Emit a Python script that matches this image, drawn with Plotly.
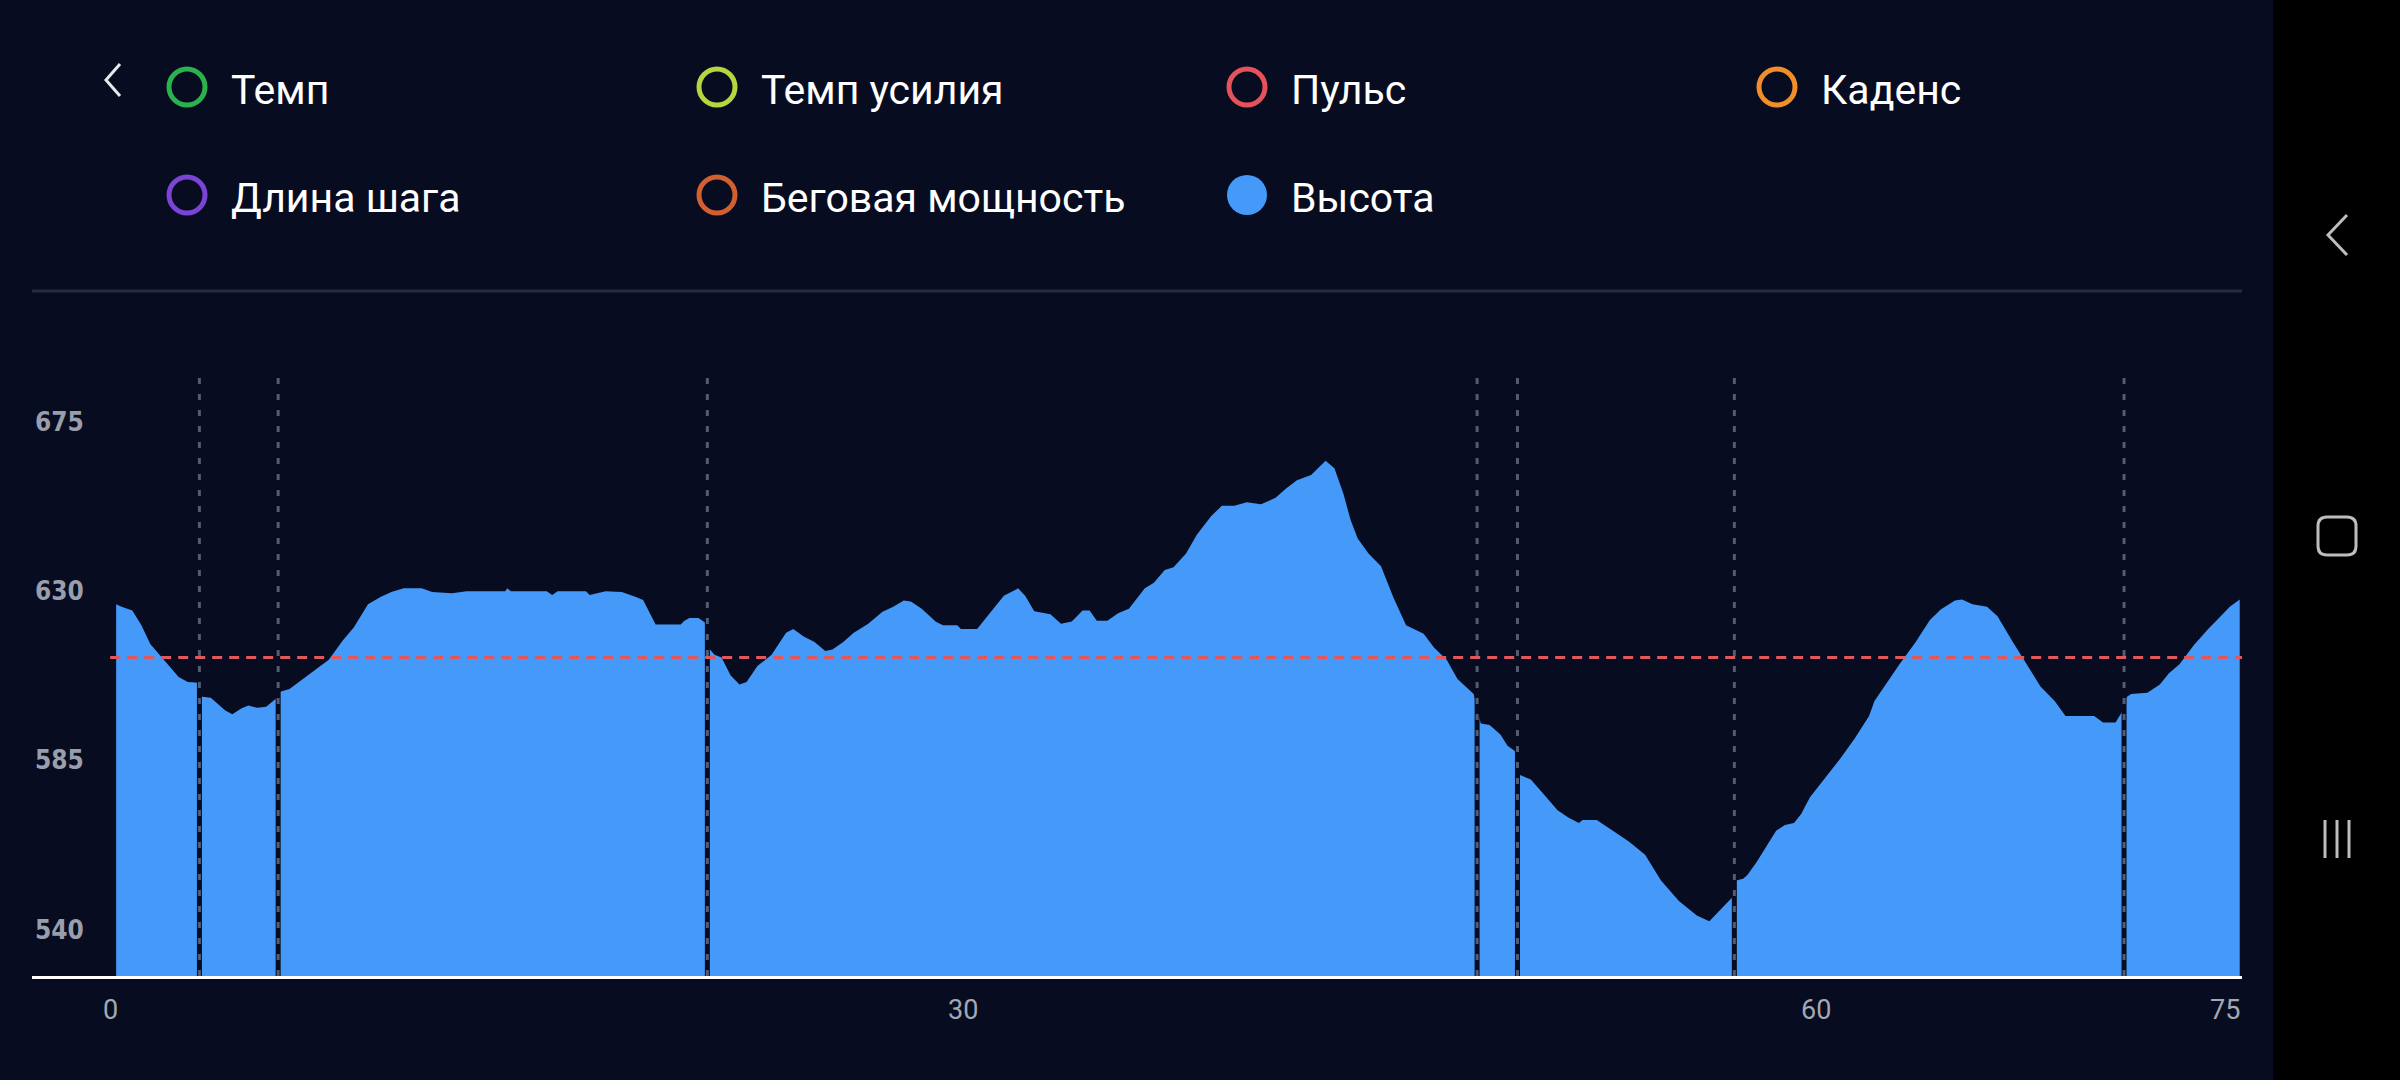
import plotly.graph_objects as go

# ---------------- data ----------------
dist_km = [
    0.21, 0.40, 0.78, 1.10, 1.41, 1.66, 2.04, 2.41, 2.73, 3.10,
    3.18, 3.54, 4.05, 4.30, 4.61, 4.86, 5.18, 5.49, 5.87,
    5.95, 6.31, 6.69, 7.19, 7.69, 8.19, 8.57, 9.07, 9.51, 9.89, 10.33, 10.96, 11.33, 12.03,
    12.53, 13.90, 13.97, 14.10, 15.36, 15.55, 15.74, 16.74, 16.87, 17.43, 18.00, 18.50,
    18.75, 19.19, 20.07, 20.19, 20.38, 20.70, 20.95,
    21.05, 21.26, 21.51, 21.83, 22.14, 22.39, 22.77, 23.27, 23.78, 24.03, 24.40, 24.78,
    25.16, 25.41, 25.79, 26.16, 26.67, 27.17, 27.55, 27.92, 28.17, 28.55, 29.05, 29.30,
    29.80, 29.93, 30.50, 30.81, 31.44, 31.94, 32.19, 32.51, 33.08, 33.45, 33.83, 34.21,
    34.46, 34.71, 35.08, 35.46, 35.84, 36.40, 36.72, 37.10, 37.41, 37.85, 38.23, 38.73,
    39.11, 39.55, 39.99, 40.49, 41.00, 41.37, 41.75, 42.25, 42.76, 43.07, 43.39, 43.64,
    43.89, 44.27, 44.71, 45.15, 45.59, 46.21, 46.58, 47.02, 47.40, 47.97,
    48.22, 48.53, 48.91, 49.16, 49.42,
    49.60, 49.98, 50.42, 50.92, 51.30, 51.67, 51.80, 52.30, 52.80, 53.43, 54.00, 54.56,
    55.19, 55.82, 56.26, 56.70, 57.08,
    57.20, 57.45, 57.60, 57.92, 58.61, 58.92, 59.24, 59.49, 59.80, 60.31, 60.87, 61.38,
    61.88, 62.07, 62.51, 62.95, 63.52, 64.02, 64.40, 64.90, 65.15, 65.52, 66.03, 66.40,
    66.90, 67.41, 67.91, 68.41, 68.79, 69.80, 70.11, 70.55, 70.77,
    70.94, 71.10, 71.67, 72.11, 72.43, 72.80, 73.31, 73.81, 74.25, 74.57, 74.92,
]
alt_m = [
    626.6, 625.9, 624.9, 621.0, 616.0, 613.8, 610.6, 607.2, 605.9, 605.7,
    602.0, 601.7, 598.3, 597.3, 598.8, 599.6, 599.0, 599.3, 601.7,
    603.2, 604.0, 606.2, 609.1, 611.8, 617.0, 620.4, 626.6, 628.5, 629.8, 630.8, 630.8, 629.8, 629.5,
    630.0, 630.0, 630.8, 630.0, 630.0, 629.0, 630.0, 630.0, 629.0, 630.0, 629.8, 628.5,
    627.7, 621.2, 621.2, 622.1, 622.9, 622.9, 621.6,
    615.0, 613.1, 612.4, 607.6, 605.2, 605.9, 610.1, 613.1, 619.0, 620.0, 618.0, 616.5,
    614.1, 614.5, 616.5, 619.0, 621.4, 624.6, 625.9, 627.6, 627.3, 625.4, 621.9, 621.0,
    621.0, 620.0, 620.0, 622.9, 628.8, 630.8, 628.8, 624.7, 623.9, 621.4, 622.0, 624.9,
    624.9, 622.2, 622.2, 624.2, 625.4, 630.8, 632.3, 635.7, 636.4, 640.1, 645.1, 650.0,
    652.8, 652.8, 653.7, 653.2, 654.9, 657.4, 659.6, 661.0, 664.8, 662.8, 655.9, 649.0,
    644.1, 640.1, 636.7, 628.3, 621.0, 618.7, 615.0, 611.8, 606.7, 602.7,
    594.8, 594.4, 591.9, 588.9, 587.5,
    581.1, 579.9, 576.1, 571.7, 569.8, 568.3, 569.1, 569.1, 566.6, 563.4, 559.9, 553.0,
    547.6, 543.7, 542.2, 545.6, 548.6,
    553.0, 553.5, 554.5, 557.9, 566.3, 567.8, 568.3, 570.7, 575.2, 580.1, 585.5, 590.9,
    596.8, 600.8, 605.7, 610.6, 616.5, 622.4, 625.2, 627.6, 627.8, 626.6, 625.9, 623.4,
    617.0, 610.6, 604.7, 600.8, 596.8, 596.8, 595.1, 595.1, 597.8,
    601.9, 602.7, 603.0, 605.2, 608.2, 610.6, 615.7, 620.0, 623.4, 625.9, 627.8,
]
pause_km = [3.14, 5.91, 21.01, 48.09, 49.51, 57.14, 70.85]
avg_alt = 612.4

y_ticks = [540, 585, 630, 675]
x_ticks = [0, 30, 60, 75]
x_tick_labels = ["0", "30", "60", "75"]

legend_names = ["Темп", "Темп усилия", "Пульс", "Каденс",
                "Длина шага", "Беговая мощность", "Высота"]
legend_colors = ["#2bb24c", "#b4d63e", "#e5525a", "#f08f2a",
                 "#7b44d4", "#d25f2f", "#4499f9"]
legend_filled = [False, False, False, False, False, False, True]

# ---------------- layout helpers (pixel -> paper) ----------------
W, H = 2400, 1080
L, R, T, B = 32, 2242, 375, 976
BG = "#070c21"
FILL = "#4499f9"


def px(x):
    return (x - L) / (R - L)


def py(y):
    return (B - y) / (B - T)


fig = go.Figure()
fig.add_trace(go.Scatter(
    x=dist_km, y=alt_m, mode="lines", fill="tozeroy",
    line=dict(width=0, color=FILL), fillcolor=FILL,
    hoverinfo="skip", showlegend=False,
))

shapes = []
# pause markers: dark gap then grey dashed line
for p in pause_km:
    shapes.append(dict(type="line", xref="x", yref="paper", x0=p, x1=p, y0=0, y1=1,
                       line=dict(color=BG, width=5), layer="above"))
    shapes.append(dict(type="line", xref="x", yref="paper", x0=p, x1=p, y0=0, y1=1,
                       line=dict(color="#525b70", width=3, dash="6px,10px"), layer="above"))
# average line
shapes.append(dict(type="line", xref="x", yref="y", x0=0, x1=75, y0=avg_alt, y1=avg_alt,
                   line=dict(color="#e0585c", width=3, dash="10px,7px"), layer="above"))
# separator under legend
shapes.append(dict(type="line", xref="paper", yref="paper", x0=px(32), x1=px(2242),
                   y0=py(291), y1=py(291), line=dict(color="#262b40", width=3)))
# back chevron
shapes.append(dict(type="path", xref="paper", yref="paper",
                   path=f"M {px(120)} {py(64)} L {px(106)} {py(80)} L {px(120)} {py(96)}",
                   line=dict(color="#e8e8ec", width=3)))
# navigation bar
shapes.append(dict(type="rect", xref="paper", yref="paper", x0=px(2273), x1=px(2400) + 0.01,
                   y0=py(1080) - 0.01, y1=py(0) + 0.01, fillcolor="#000000",
                   line=dict(width=0), layer="above"))
shapes.append(dict(type="path", xref="paper", yref="paper",
                   path=f"M {px(2347)} {py(215)} L {px(2328)} {py(235)} L {px(2347)} {py(255)}",
                   line=dict(color="#bdbdbd", width=3), layer="above"))
# rounded square
x0s, x1s, y0s, y1s, rr = 2318, 2356, 517, 555, 9
sq = (f"M {px(x0s+rr)} {py(y0s)} L {px(x1s-rr)} {py(y0s)} Q {px(x1s)} {py(y0s)} {px(x1s)} {py(y0s+rr)} "
      f"L {px(x1s)} {py(y1s-rr)} Q {px(x1s)} {py(y1s)} {px(x1s-rr)} {py(y1s)} "
      f"L {px(x0s+rr)} {py(y1s)} Q {px(x0s)} {py(y1s)} {px(x0s)} {py(y1s-rr)} "
      f"L {px(x0s)} {py(y0s+rr)} Q {px(x0s)} {py(y0s)} {px(x0s+rr)} {py(y0s)} Z")
shapes.append(dict(type="path", xref="paper", yref="paper", path=sq,
                   line=dict(color="#bdbdbd", width=3), layer="above"))
for bx in (2325, 2337, 2349):
    shapes.append(dict(type="line", xref="paper", yref="paper", x0=px(bx), x1=px(bx),
                       y0=py(820), y1=py(858), line=dict(color="#bdbdbd", width=3), layer="above"))

# legend (manual grid)
col_cx = [187, 717, 1247, 1777]
row_cy = [87, 195]
annotations = []
for i, (name, col, filled) in enumerate(zip(legend_names, legend_colors, legend_filled)):
    r, c = divmod(i, 4)
    cx, cy = col_cx[c], row_cy[r]
    rad = 18 if not filled else 20
    shapes.append(dict(type="circle", xref="paper", yref="paper",
                       x0=px(cx - rad), x1=px(cx + rad), y0=py(cy + rad), y1=py(cy - rad),
                       line=dict(color=col, width=0 if filled else 5),
                       fillcolor=col if filled else "rgba(0,0,0,0)"))
    annotations.append(dict(xref="paper", yref="paper", x=px(cx + 42), y=py(cy + 3),
                            xanchor="left", yanchor="middle", text=name, showarrow=False,
                            font=dict(family="Roboto", size=41, color="#ffffff")))

# x tick labels
for v, lab in zip(x_ticks, x_tick_labels):
    annotations.append(dict(xref="x", yref="paper", x=v, y=py(1010),
                            xanchor="right" if v == 75 else "center", yanchor="middle",
                            text=lab, showarrow=False,
                            font=dict(family="Roboto", size=27, color="#a4a8b2")))

fig.update_layout(
    width=W, height=H,
    margin=dict(l=L, r=W - R, t=T, b=H - B, pad=0),
    paper_bgcolor=BG, plot_bgcolor=BG,
    shapes=shapes, annotations=annotations,
    showlegend=False,
    xaxis=dict(range=[-2.75, 75.0], showgrid=False, zeroline=False, showticklabels=False,
               ticks="", showline=True, linecolor="#ffffff", linewidth=3, fixedrange=True),
    yaxis=dict(range=[527.6, 687.6], showgrid=False, zeroline=False, tickvals=y_ticks,
               ticktext=[str(v) for v in y_ticks], ticklabelposition="inside", ticks="",
               tickfont=dict(family="DejaVu Sans Condensed", size=26, color="#9a9eaa",
                             weight="bold"),
               showline=False, fixedrange=True),
)

fig.write_html("out.html",
               config={"displayModeBar": False, "staticPlot": True},
               post_script="document.body.style.margin='0';document.body.style.overflow='hidden';"
                           "document.body.style.background='#070c21';")
